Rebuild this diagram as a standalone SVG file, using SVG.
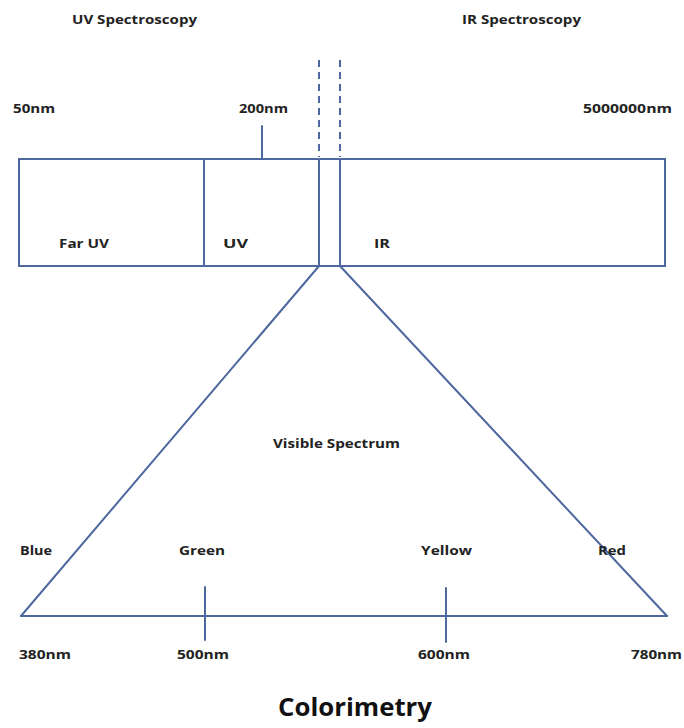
<svg xmlns="http://www.w3.org/2000/svg" width="684" height="728" viewBox="0 0 684 728">
<style>
.ln{stroke:#4d689f;stroke-width:2;fill:none;stroke-linecap:round}
.ds{stroke:#4d689f;stroke-width:2;fill:none;stroke-dasharray:7,5}
.t{font-family:"Open Sans","Liberation Sans",sans-serif;font-weight:bold;font-size:12.5px;fill:#222}
.title{font-family:"Open Sans","Liberation Sans",sans-serif;font-weight:bold;font-size:25px;fill:#111}
</style>
<rect width="684" height="728" fill="#fff"/>
<g id="connectors">
<line class="ds" x1="319" y1="60" x2="319" y2="157"/>
<line class="ds" x1="340" y1="60" x2="340" y2="157"/>
<line class="ln" x1="262" y1="126" x2="262" y2="159"/>
<line class="ln" x1="319" y1="266" x2="21" y2="616"/>
<line class="ln" x1="340" y1="266" x2="667" y2="616"/>
<line class="ln" x1="21" y1="616" x2="667" y2="616"/>
<line class="ln" x1="205" y1="587" x2="205" y2="640"/>
<line class="ln" x1="446" y1="588" x2="446" y2="642"/>
</g>
<g id="spectrum-bar">
<rect class="ln" x="19" y="159" width="646" height="107" stroke-linecap="butt"/>
<line class="ln" x1="204" y1="159" x2="204" y2="266"/>
<line class="ln" x1="319" y1="159" x2="319" y2="266"/>
<line class="ln" x1="340" y1="159" x2="340" y2="266"/>
</g>
<g id="labels-top">
<text class="t" x="72" y="24" textLength="125" lengthAdjust="spacingAndGlyphs">UV Spectroscopy</text>
<text class="t" x="462" y="24" textLength="119" lengthAdjust="spacingAndGlyphs">IR Spectroscopy</text>
<text class="t" x="13" y="113" textLength="42" lengthAdjust="spacingAndGlyphs">50nm</text>
<text class="t" x="239" y="113" textLength="49" lengthAdjust="spacingAndGlyphs">200nm</text>
<text class="t" x="583" y="113" textLength="89" lengthAdjust="spacingAndGlyphs">5000000nm</text>
</g>
<g id="region-far-uv"><text class="t" x="59" y="248" textLength="50" lengthAdjust="spacingAndGlyphs">Far UV</text></g>
<g id="region-uv"><text class="t" x="223" y="248" textLength="25" lengthAdjust="spacingAndGlyphs">UV</text></g>
<g id="region-ir"><text class="t" x="374" y="248" textLength="16" lengthAdjust="spacingAndGlyphs">IR</text></g>
<g id="visible-spectrum">
<text class="t" x="273" y="448" textLength="127" lengthAdjust="spacingAndGlyphs">Visible Spectrum</text>
<text class="t" x="20" y="555" textLength="32" lengthAdjust="spacingAndGlyphs">Blue</text>
<text class="t" x="179" y="555" textLength="46" lengthAdjust="spacingAndGlyphs">Green</text>
<text class="t" x="421" y="555" textLength="51" lengthAdjust="spacingAndGlyphs">Yellow</text>
<text class="t" x="598" y="555" textLength="28" lengthAdjust="spacingAndGlyphs">Red</text>
<text class="t" x="19" y="659" textLength="52" lengthAdjust="spacingAndGlyphs">380nm</text>
<text class="t" x="177" y="659" textLength="52" lengthAdjust="spacingAndGlyphs">500nm</text>
<text class="t" x="418" y="659" textLength="52" lengthAdjust="spacingAndGlyphs">600nm</text>
<text class="t" x="631" y="659" textLength="51" lengthAdjust="spacingAndGlyphs">780nm</text>
</g>
<g id="title"><text class="title" x="278" y="716" textLength="154" lengthAdjust="spacingAndGlyphs">Colorimetry</text></g>
</svg>
